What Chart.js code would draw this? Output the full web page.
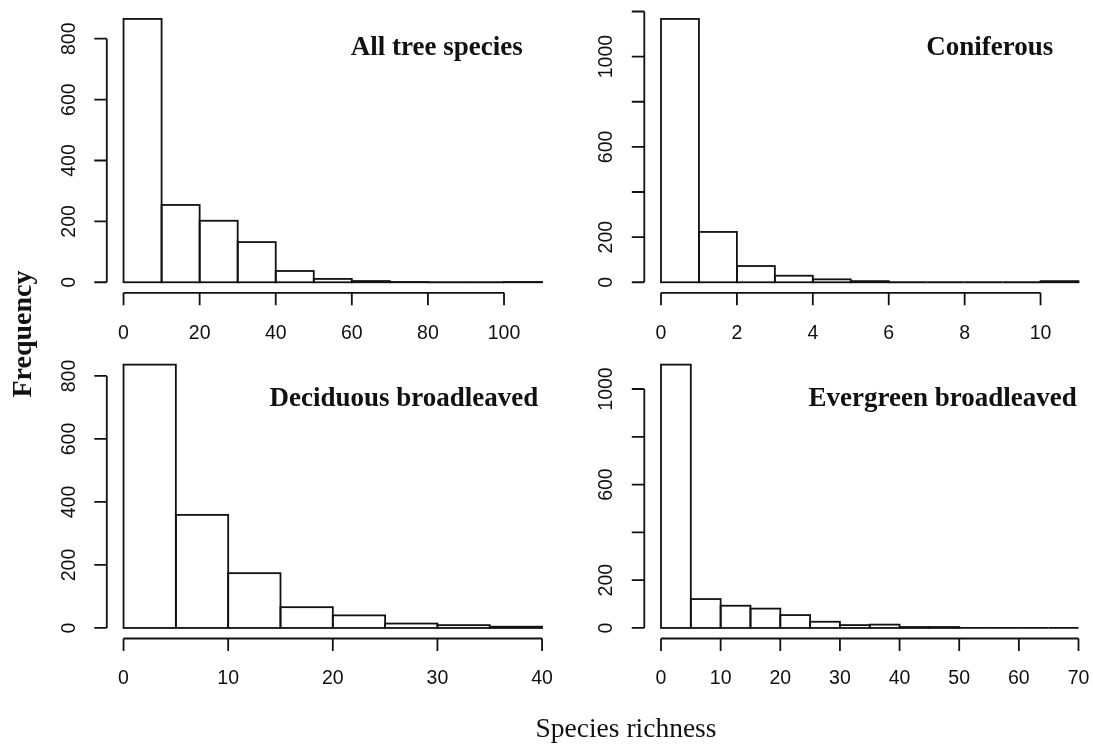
<!DOCTYPE html>
<html>
<head>
<meta charset="utf-8">
<script src="https://cdn.jsdelivr.net/npm/chart.js@4.4.0/dist/chart.umd.min.js"></script>
<style>
  html, body { margin: 0; padding: 0; background: #fff; width: 1093px; height: 749px; overflow: hidden; position: relative; }
  canvas { position: absolute; }
  .lab { position: absolute; font-family: "Liberation Serif", "Times New Roman", serif; color: #111; white-space: nowrap; text-align: center; }
  #ylab { left: -78px; top: 319px; width: 200px; height: 30px; line-height: 30px; font-size: 28px; font-weight: bold; transform: rotate(-90deg); }
  #xlab { left: 476px; top: 714px; width: 300px; line-height: 27.5px; font-size: 27.5px; }
</style>
</head>
<body>
<canvas id="c1" width="580" height="350" style="left:0;top:0"></canvas>
<canvas id="c2" width="516" height="350" style="left:580px;top:0"></canvas>
<canvas id="c3" width="580" height="399" style="left:0;top:350px"></canvas>
<canvas id="c4" width="516" height="399" style="left:580px;top:350px"></canvas>
<div id="ylab" class="lab">Frequency</div>
<div id="xlab" class="lab">Species richness</div>
<script>
// histogram counts (bins start at 0)
const allTreeBinWidth = 10;
const allTreeCounts = [865, 254, 202, 132, 37, 11, 4, 1, 0, 0, 1];
const allTreeXTicks = [0, 20, 40, 60, 80, 100];
const allTreeYTicks = [0, 200, 400, 600, 800];
const allTreeYLabels = [0, 200, 400, 600, 800];

const coniferBinWidth = 1;
const coniferCounts = [1167, 223, 72, 29, 13, 5, 0, 0, 0, 0, 5];
const coniferXTicks = [0, 2, 4, 6, 8, 10];
const coniferYTicks = [0, 200, 400, 600, 800, 1000, 1200];
const coniferYLabels = [0, 200, 600, 1000];

const deciduousBinWidth = 5;
const deciduousCounts = [836, 359, 174, 66, 40, 14, 9, 4];
const deciduousXTicks = [0, 10, 20, 30, 40];
const deciduousYTicks = [0, 200, 400, 600, 800];
const deciduousYLabels = [0, 200, 400, 600, 800];

const evergreenBinWidth = 5;
const evergreenCounts = [1102, 121, 93, 81, 54, 26, 12, 14, 4, 4, 0, 0, 0, 0];
const evergreenXTicks = [0, 10, 20, 30, 40, 50, 60, 70];
const evergreenYTicks = [0, 200, 400, 600, 800, 1000];
const evergreenYLabels = [0, 200, 600, 1000];

const INK = '#111';
const TICK_FONT = '19.5px "Liberation Sans", Arial, sans-serif';

// R style: bar outlines, detached axes, title in the corner
const rStyle = {
  id: 'rStyle',
  afterDatasetsDraw(chart, args, opts) {
    const ctx = chart.ctx;
    const xs = chart.scales.x, ys = chart.scales.y;
    const area = chart.chartArea;
    ctx.save();
    ctx.strokeStyle = INK;
    ctx.lineWidth = 1.8;
    chart.getDatasetMeta(0).data.forEach(bar => {
      const p = bar.getProps(['x', 'y', 'base', 'width'], true);
      ctx.strokeRect(p.x - p.width / 2, Math.min(p.y, p.base), p.width, Math.abs(p.base - p.y));
    });

    // x axis
    const ay = area.bottom;
    ctx.beginPath();
    ctx.moveTo(xs.getPixelForValue(opts.xTicks[0]), ay);
    ctx.lineTo(xs.getPixelForValue(opts.xTicks[opts.xTicks.length - 1]), ay);
    opts.xTicks.forEach(t => {
      const px = xs.getPixelForValue(t);
      ctx.moveTo(px, ay);
      ctx.lineTo(px, ay + 12.5);
    });
    // y axis
    const ax = area.left;
    ctx.moveTo(ax, ys.getPixelForValue(opts.yTicks[0]));
    ctx.lineTo(ax, ys.getPixelForValue(opts.yTicks[opts.yTicks.length - 1]));
    opts.yTicks.forEach(t => {
      const py = ys.getPixelForValue(t);
      ctx.moveTo(ax, py);
      ctx.lineTo(ax - 12.5, py);
    });
    ctx.stroke();

    ctx.fillStyle = INK;
    ctx.font = TICK_FONT;
    ctx.textAlign = 'center';
    ctx.textBaseline = 'middle';
    opts.xTicks.forEach(t => {
      ctx.fillText(String(t), xs.getPixelForValue(t), ay + 40.5);
    });
    opts.yLabels.forEach(t => {
      ctx.save();
      ctx.translate(ax - 37.5, ys.getPixelForValue(t));
      ctx.rotate(-Math.PI / 2);
      ctx.fillText(String(t), 0, 0);
      ctx.restore();
    });

    // panel title
    ctx.font = 'bold 27px "Liberation Serif", "Times New Roman", serif';
    ctx.textAlign = 'right';
    ctx.textBaseline = 'alphabetic';
    ctx.fillText(opts.title, opts.titleX, opts.titleY);
    ctx.restore();
  }
};

function makePanel(id, binWidth, counts, xTicks, yTicks, yLabels, title, titleX, titleY, padding) {
  const end = binWidth * counts.length;
  const top = Math.max(...counts);
  new Chart(document.getElementById(id), {
    type: 'bar',
    data: {
      datasets: [{
        data: counts.map((c, i) => ({ x: binWidth * i + binWidth / 2, y: c })),
        backgroundColor: '#fff',
        borderWidth: 0,
        barPercentage: 1,
        categoryPercentage: 1
      }]
    },
    options: {
      responsive: false,
      animation: false,
      events: [],
      layout: { padding: padding },
      plugins: {
        legend: { display: false },
        tooltip: { enabled: false },
        rStyle: { xTicks, yTicks, yLabels, title, titleX, titleY }
      },
      scales: {
        x: { type: 'linear', display: false, offset: false, min: -0.04 * end, max: end * 1.04 },
        y: { type: 'linear', display: false, min: -0.04 * top, max: top * 1.04 }
      }
    },
    plugins: [rStyle]
  });
}

makePanel('c1', allTreeBinWidth, allTreeCounts, allTreeXTicks, allTreeYTicks, allTreeYLabels,
  'All tree species', 522.7, 55, { left: 106.8, right: 21.2, top: 8.4, bottom: 57.2 });
makePanel('c2', coniferBinWidth, coniferCounts, coniferXTicks, coniferYTicks, coniferYLabels,
  'Coniferous', 473.3, 55, { left: 64.3, right: 0.8, top: 8.4, bottom: 57.2 });
makePanel('c3', deciduousBinWidth, deciduousCounts, deciduousXTicks, deciduousYTicks, deciduousYLabels,
  'Deciduous broadleaved', 538.3, 55.7, { left: 106.8, right: 21.2, top: 4.1, bottom: 110.5 });
makePanel('c4', evergreenBinWidth, evergreenCounts, evergreenXTicks, evergreenYTicks, evergreenYLabels,
  'Evergreen broadleaved', 496.7, 55.7, { left: 64.3, right: 0.8, top: 4.1, bottom: 110.5 });
</script>
</body>
</html>
